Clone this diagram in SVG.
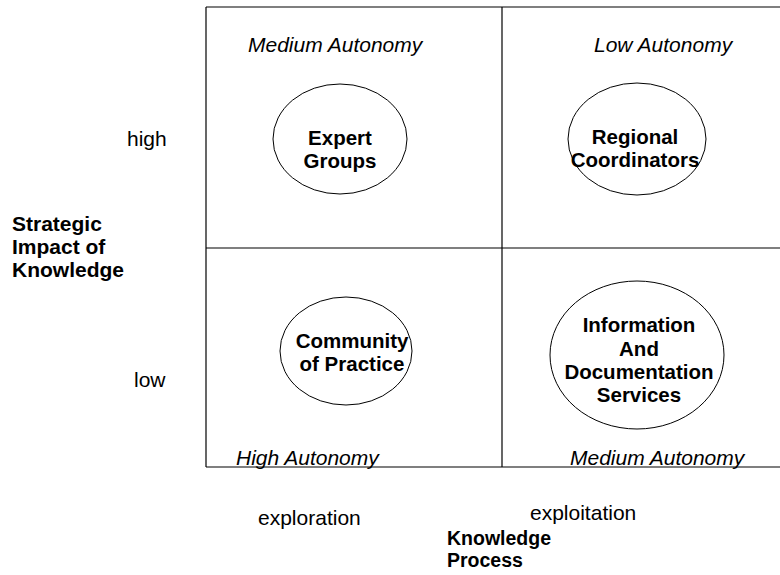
<svg xmlns="http://www.w3.org/2000/svg" width="780" height="575" viewBox="0 0 780 575">
<style>
  text { font-family: "Liberation Sans", Arial, sans-serif; font-size: 21px; fill: #000; }
  .b { font-weight: bold; }
  .i { font-style: italic; }
  .c { text-anchor: middle; font-size: 20.5px; }
  .s { font-size: 19.5px; }
  .ln { stroke: #000; stroke-width: 1.2; fill: none; }
  ellipse { fill: none; stroke: #000; stroke-width: 1; }
</style>
<rect width="780" height="575" fill="#fff"/>
<g id="grid">
  <line class="ln" x1="206" y1="7" x2="780" y2="7"/>
  <line class="ln" x1="206" y1="7" x2="206" y2="467"/>
  <line class="ln" x1="206" y1="467" x2="780" y2="467"/>
  <line class="ln" x1="502" y1="7" x2="502" y2="467"/>
  <line class="ln" x1="206" y1="248" x2="780" y2="248"/>
</g>
<g id="quadrant-labels">
  <text class="i" x="248" y="52">Medium Autonomy</text>
  <text class="i" x="594" y="52">Low Autonomy</text>
  <text class="i" x="236" y="465">High Autonomy</text>
  <text class="i" x="570" y="465">Medium Autonomy</text>
</g>
<g id="axis-labels">
  <text x="127" y="146">high</text>
  <text x="134" y="387">low</text>
  <text class="b"><tspan x="12" y="231">Strategic</tspan><tspan x="12" y="254">Impact of</tspan><tspan x="12" y="277">Knowledge</tspan></text>
  <text x="258" y="525">exploration</text>
  <text x="530" y="520">exploitation</text>
  <text class="b s"><tspan x="447" y="545">Knowledge</tspan><tspan x="447" y="567">Process</tspan></text>
</g>
<g id="expert-groups">
  <ellipse cx="340" cy="139" rx="67" ry="55"/>
  <text class="b c"><tspan x="340" y="145">Expert</tspan><tspan x="340" y="168">Groups</tspan></text>
</g>
<g id="regional-coordinators">
  <ellipse cx="637" cy="139" rx="69" ry="56"/>
  <text class="b c"><tspan x="635" y="144">Regional</tspan><tspan x="635" y="167">Coordinators</tspan></text>
</g>
<g id="community-of-practice">
  <ellipse cx="346" cy="351" rx="66" ry="54"/>
  <text class="b c"><tspan x="352" y="348">Community</tspan><tspan x="352" y="371">of Practice</tspan></text>
</g>
<g id="information-services">
  <ellipse cx="637" cy="355" rx="87" ry="74"/>
  <text class="b c"><tspan x="639" y="332">Information</tspan><tspan x="639" y="356">And</tspan><tspan x="639" y="379">Documentation</tspan><tspan x="639" y="402">Services</tspan></text>
</g>
<g id="connectors"></g>
</svg>
